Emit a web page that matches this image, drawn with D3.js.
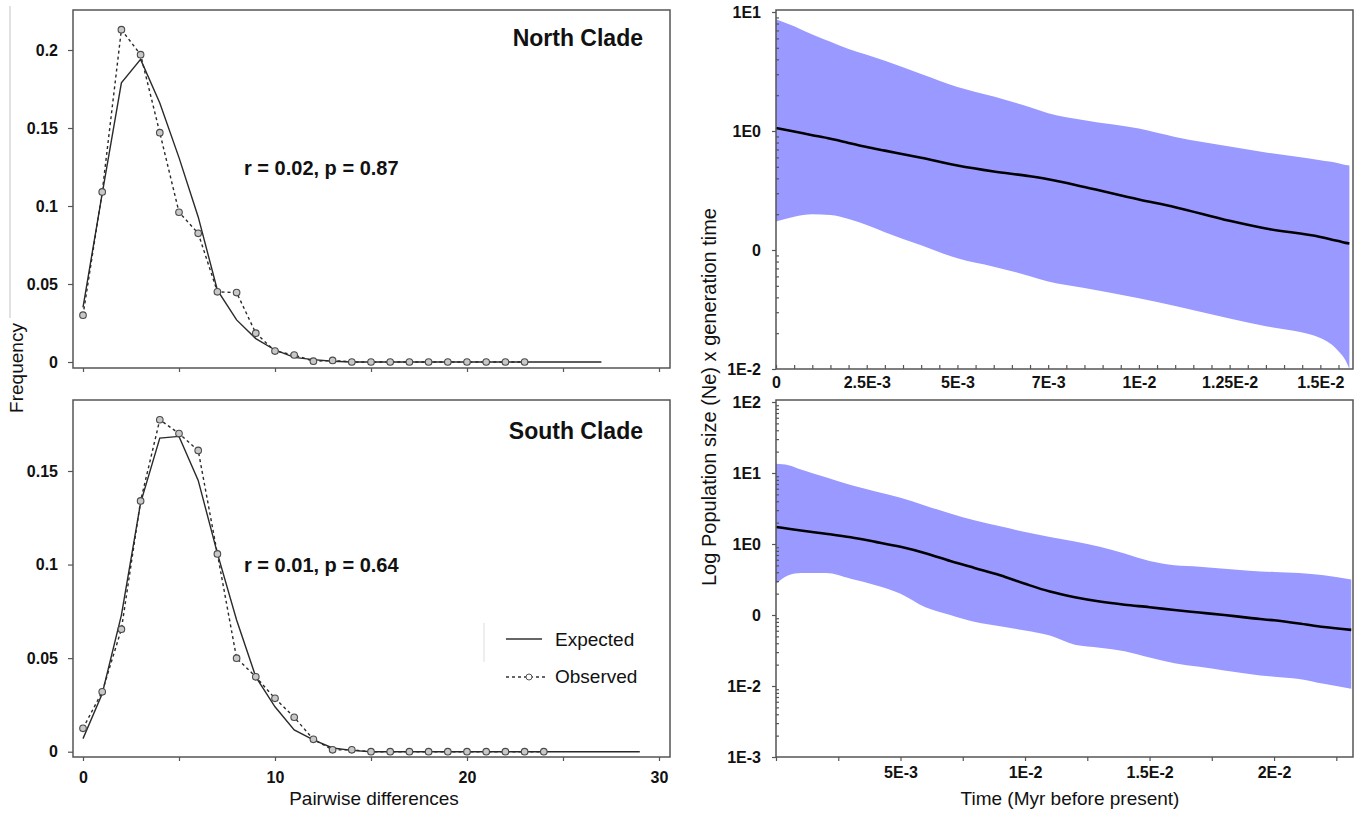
<html>
<head>
<meta charset="utf-8">
<title>Mismatch distributions and skyline plots</title>
<script src="https://d3js.org/d3.v7.min.js" charset="utf-8"></script>
<style>
  body { margin: 0; background: #fff; }
  text { font-family: Arial, "Liberation Sans", sans-serif; fill: #111; }
</style>
</head>
<body>
<script>
// ---- mismatch distributions (pairwise differences vs frequency) ----
var northObsX = [0,1,2,3,4,5,6,7,8,9,10,11,12,13,14,15,16,17,18,19,20,21,22,23];
var northObs  = [0.030,0.109,0.213,0.197,0.147,0.096,0.0825,0.045,0.0445,0.0185,0.007,0.0045,0.0005,0.001,0,0,0,0,0,0,0,0,0,0];
var northExpX = [0,1,2,3,4,5,6,7,8,9,10,11,12,13,14,15,16,17,18,19,20,21,22,23,24,25,26,27];
var northExp  = [0.035,0.108,0.179,0.194,0.166,0.131,0.093,0.046,0.027,0.015,0.0077,0.003,0.0015,0.0005,0,0,0,0,0,0,0,0,0,0,0,0,0,0];

var southObsX = [0,1,2,3,4,5,6,7,8,9,10,11,12,13,14,15,16,17,18,19,20,21,22,23,24];
var southObs  = [0.0125,0.032,0.0655,0.134,0.1774,0.170,0.161,0.1057,0.050,0.040,0.0285,0.0184,0.0066,0.001,0.001,0,0,0,0,0,0,0,0,0,0];
var southExpX = [0,1,2,3,4,5,6,7,8,9,10,11,12,13,14,15,16,17,18,19,20,21,22,23,24,25,26,27,28,29];
var southExp  = [0.007,0.031,0.073,0.133,0.1676,0.1685,0.145,0.106,0.0704,0.040,0.024,0.0116,0.0063,0.002,0.0007,0,0,0,0,0,0,0,0,0,0,0,0,0,0,0];

var freqTicksNorth = [0, 0.05, 0.1, 0.15, 0.2];
var freqTicksSouth = [0, 0.05, 0.1, 0.15];
var diffTicks = [0, 5, 10, 15, 20, 25, 30];
var diffLabels = [0, 10, 20, 30];

// ---- skyline plots: time (Myr) and log10(Ne x generation time) ----
var northTime   = [0,0.0005,0.001,0.0015,0.002,0.0025,0.003,0.004,0.005,0.006,0.007,0.0075,0.0085,0.01,0.011,0.0125,0.0135,0.015,0.0155,0.0157,0.0158];
var northMedian = [0.025,-0.005,-0.035,-0.065,-0.10,-0.135,-0.165,-0.225,-0.29,-0.34,-0.38,-0.405,-0.47,-0.575,-0.64,-0.755,-0.82,-0.89,-0.925,-0.94,-0.945];
var northUpper  = [0.94,0.88,0.81,0.75,0.69,0.64,0.59,0.48,0.37,0.29,0.20,0.15,0.09,0.02,-0.05,-0.13,-0.18,-0.245,-0.27,-0.285,-0.29];
var northLower  = [-0.76,-0.72,-0.70,-0.705,-0.74,-0.79,-0.85,-0.96,-1.07,-1.14,-1.22,-1.265,-1.32,-1.405,-1.47,-1.575,-1.64,-1.74,-1.85,-1.93,-2.0];

var southTime   = [0,0.0005,0.001,0.002,0.003,0.004,0.005,0.006,0.007,0.008,0.009,0.01,0.011,0.012,0.013,0.014,0.015,0.016,0.017,0.018,0.019,0.02,0.021,0.022,0.0231];
var southMedian = [0.24,0.215,0.19,0.145,0.095,0.03,-0.04,-0.13,-0.24,-0.34,-0.44,-0.56,-0.67,-0.75,-0.81,-0.855,-0.89,-0.93,-0.965,-1.0,-1.04,-1.075,-1.12,-1.17,-1.21];
var southUpper  = [1.13,1.11,1.05,0.94,0.83,0.74,0.65,0.54,0.43,0.33,0.25,0.17,0.10,0.035,-0.04,-0.135,-0.24,-0.30,-0.32,-0.35,-0.375,-0.395,-0.41,-0.44,-0.50];
var southLower  = [-0.56,-0.44,-0.41,-0.41,-0.49,-0.58,-0.70,-0.89,-1.0,-1.10,-1.16,-1.22,-1.29,-1.42,-1.46,-1.51,-1.60,-1.68,-1.73,-1.78,-1.83,-1.87,-1.90,-1.97,-2.04];

var northTimeTicks  = [0, 0.0025, 0.005, 0.0075, 0.01, 0.0125, 0.015];
var northTimeLabels = ["0", "2.5E-3", "5E-3", "7E-3", "1E-2", "1.25E-2", "1.5E-2"];
var southTimeTicks  = [0.005, 0.01, 0.015, 0.02];
var southTimeLabels = ["5E-3", "1E-2", "1.5E-2", "2E-2"];

var width = 1355, height = 814;
var frameColor = "#555";

var svg = d3.select("body").append("svg")
    .attr("width", width)
    .attr("height", height);

function styleAxis(g) {
    g.select(".domain").remove();
    g.selectAll("line").attr("stroke", frameColor).attr("stroke-width", 1.2);
    g.selectAll("text").style("font-size", "16px").style("font-weight", "bold").attr("fill", "#111");
}

// one mismatch panel
function mismatch(p) {
    var x = d3.scaleLinear().domain([0, 30]).range([83, 659]);
    var y = d3.scaleLinear().domain([0, p.yTop]).range([p.y0, p.yTopPx]);
    var g = svg.append("g");

    g.append("rect")
        .attr("x", 73).attr("y", p.top)
        .attr("width", 597).attr("height", p.bottom - p.top)
        .attr("fill", "none").attr("stroke", frameColor).attr("stroke-width", 1.5);

    g.append("g")
        .attr("transform", "translate(73,0)")
        .call(d3.axisLeft(y).tickValues(p.yTicks).tickSize(5).tickPadding(10)
            .tickFormat(function(d) { return d === 0 ? "0" : String(d); }))
        .call(styleAxis);

    g.append("g")
        .attr("transform", "translate(0," + p.bottom + ")")
        .call(d3.axisBottom(x).tickValues(diffTicks).tickSize(4).tickPadding(11)
            .tickFormat(function(d) { return p.showX && diffLabels.indexOf(d) >= 0 ? d : ""; }))
        .call(styleAxis);

    var line = d3.line().x(function(d) { return x(d[0]); }).y(function(d) { return y(d[1]); });

    g.append("path")
        .attr("d", line(d3.zip(p.expX, p.exp)))
        .attr("fill", "none").attr("stroke", "#2a2a2a").attr("stroke-width", 1.4);

    g.append("path")
        .attr("d", line(d3.zip(p.obsX, p.obs)))
        .attr("fill", "none").attr("stroke", "#2a2a2a").attr("stroke-width", 1.4)
        .attr("stroke-dasharray", "3,3");

    g.selectAll("circle.obs")
        .data(d3.zip(p.obsX, p.obs))
        .enter().append("circle")
        .attr("class", "obs")
        .attr("cx", function(d) { return x(d[0]); })
        .attr("cy", function(d) { return y(d[1]); })
        .attr("r", 3.3)
        .attr("fill", "#c8c8c8").attr("stroke", "#4a4a4a").attr("stroke-width", 1.1);

    g.append("text")
        .attr("x", 643).attr("y", p.titleY)
        .attr("text-anchor", "end")
        .style("font-size", "23px").style("font-weight", "bold")
        .text(p.title);

    g.append("text")
        .attr("x", 244).attr("y", p.statY)
        .style("font-size", "20px").style("font-weight", "bold")
        .text(p.stat);
}

mismatch({
    top: 10, bottom: 368, y0: 362, yTop: 0.2, yTopPx: 50,
    yTicks: freqTicksNorth, showX: false,
    obsX: northObsX, obs: northObs, expX: northExpX, exp: northExp,
    title: "North Clade", titleY: 46, stat: "r = 0.02, p = 0.87", statY: 175
});
mismatch({
    top: 400, bottom: 757, y0: 751.7, yTop: 0.15, yTopPx: 471,
    yTicks: freqTicksSouth, showX: true,
    obsX: southObsX, obs: southObs, expX: southExpX, exp: southExp,
    title: "South Clade", titleY: 439, stat: "r = 0.01, p = 0.64", statY: 572
});

// legend
svg.append("line").attr("x1", 484).attr("x2", 484).attr("y1", 623).attr("y2", 662)
    .attr("stroke", "#ddd").attr("stroke-width", 1);
svg.append("line").attr("x1", 506).attr("x2", 542).attr("y1", 639).attr("y2", 639)
    .attr("stroke", "#333").attr("stroke-width", 1.3);
svg.append("line").attr("x1", 506).attr("x2", 548).attr("y1", 677).attr("y2", 677)
    .attr("stroke", "#333").attr("stroke-width", 1.3).attr("stroke-dasharray", "3,3");
svg.append("circle").attr("cx", 529).attr("cy", 677).attr("r", 3)
    .attr("fill", "#fff").attr("stroke", "#555").attr("stroke-width", 1);
svg.append("text").attr("x", 555).attr("y", 646).style("font-size", "19px").text("Expected");
svg.append("text").attr("x", 555).attr("y", 683).style("font-size", "19px").text("Observed");

svg.append("line").attr("x1", 10).attr("x2", 10).attr("y1", 6).attr("y2", 318)
    .attr("stroke", "#c4c4c4").attr("stroke-width", 1);

svg.append("text")
    .attr("transform", "translate(23,368) rotate(-90)")
    .attr("text-anchor", "middle")
    .style("font-size", "19px")
    .text("Frequency");
svg.append("text")
    .attr("x", 374).attr("y", 805)
    .attr("text-anchor", "middle")
    .style("font-size", "19px")
    .text("Pairwise differences");

// one skyline panel
function skyline(p) {
    var x = d3.scaleLinear().domain([0, p.tMax]).range([776, 1353]);
    var y = d3.scaleLog().domain(p.yDomain).range([p.bottom, p.yTopPx]);
    var g = svg.append("g");
    var rows = d3.zip(p.time, p.median, p.upper, p.lower);
    var pow = function(v) { return Math.pow(10, v); };

    g.append("path")
        .attr("d", d3.area()
            .curve(d3.curveMonotoneX)
            .x(function(d) { return x(d[0]); })
            .y0(function(d) { return y(pow(d[3])); })
            .y1(function(d) { return y(pow(d[2])); })(rows))
        .attr("fill", "#9999ff");

    g.append("path")
        .attr("d", d3.line()
            .curve(d3.curveMonotoneX)
            .x(function(d) { return x(d[0]); })
            .y(function(d) { return y(pow(d[1])); })(rows))
        .attr("fill", "none").attr("stroke", "#000").attr("stroke-width", 2.6);

    g.append("rect")
        .attr("x", 776).attr("y", p.top)
        .attr("width", 577).attr("height", p.bottom - p.top)
        .attr("fill", "none").attr("stroke", frameColor).attr("stroke-width", 1.5);

    // minor log ticks, inward
    var decades = y.ticks().filter(function(d) {
        return Math.abs(Math.log10(d) - Math.round(Math.log10(d))) > 1e-6;
    });
    g.append("g")
        .attr("transform", "translate(776,0)")
        .call(d3.axisRight(y).tickValues(decades).tickSize(3).tickFormat(""))
        .call(styleAxis);

    // major log ticks, outward with labels
    var majors = y.ticks().filter(function(d) {
        return Math.abs(Math.log10(d) - Math.round(Math.log10(d))) < 1e-6;
    });
    g.append("g")
        .attr("transform", "translate(776,0)")
        .call(d3.axisLeft(y).tickValues(majors).tickSize(4).tickPadding(11)
            .tickFormat(function(d) {
                var e = Math.round(Math.log10(d));
                return e === -1 ? "0" : "1E" + e;
            }))
        .call(styleAxis);

    // time axis: minor ticks then labelled ticks
    g.append("g")
        .attr("transform", "translate(0," + p.bottom + ")")
        .call(d3.axisBottom(x).tickValues(d3.range(0, p.tMax, p.minorStep)).tickSize(p.tickDir * 4).tickFormat(""))
        .call(styleAxis);
    g.append("g")
        .attr("transform", "translate(0," + p.bottom + ")")
        .call(d3.axisBottom(x).tickValues(p.xTicks).tickSize(0).tickPadding(p.labelPad)
            .tickFormat(function(d, i) { return p.xLabels[i]; }))
        .call(styleAxis);
}

skyline({
    top: 10, bottom: 369, yTopPx: 12, yDomain: [1e-2, 1e1], tMax: 0.0159,
    time: northTime, median: northMedian, upper: northUpper, lower: northLower,
    xTicks: northTimeTicks, xLabels: northTimeLabels, minorStep: 0.0005, tickDir: -1, labelPad: 8
});
skyline({
    top: 400, bottom: 757, yTopPx: 402, yDomain: [1e-3, 1e2], tMax: 0.02317,
    time: southTime, median: southMedian, upper: southUpper, lower: southLower,
    xTicks: southTimeTicks, xLabels: southTimeLabels, minorStep: 0.0025, tickDir: 1, labelPad: 10
});

svg.append("text")
    .attr("transform", "translate(716,397) rotate(-90)")
    .attr("text-anchor", "middle")
    .style("font-size", "20px")
    .text("Log Population size (Ne) x generation time");
svg.append("text")
    .attr("x", 1070).attr("y", 805)
    .attr("text-anchor", "middle")
    .style("font-size", "19px")
    .text("Time (Myr before present)");
</script>
</body>
</html>
